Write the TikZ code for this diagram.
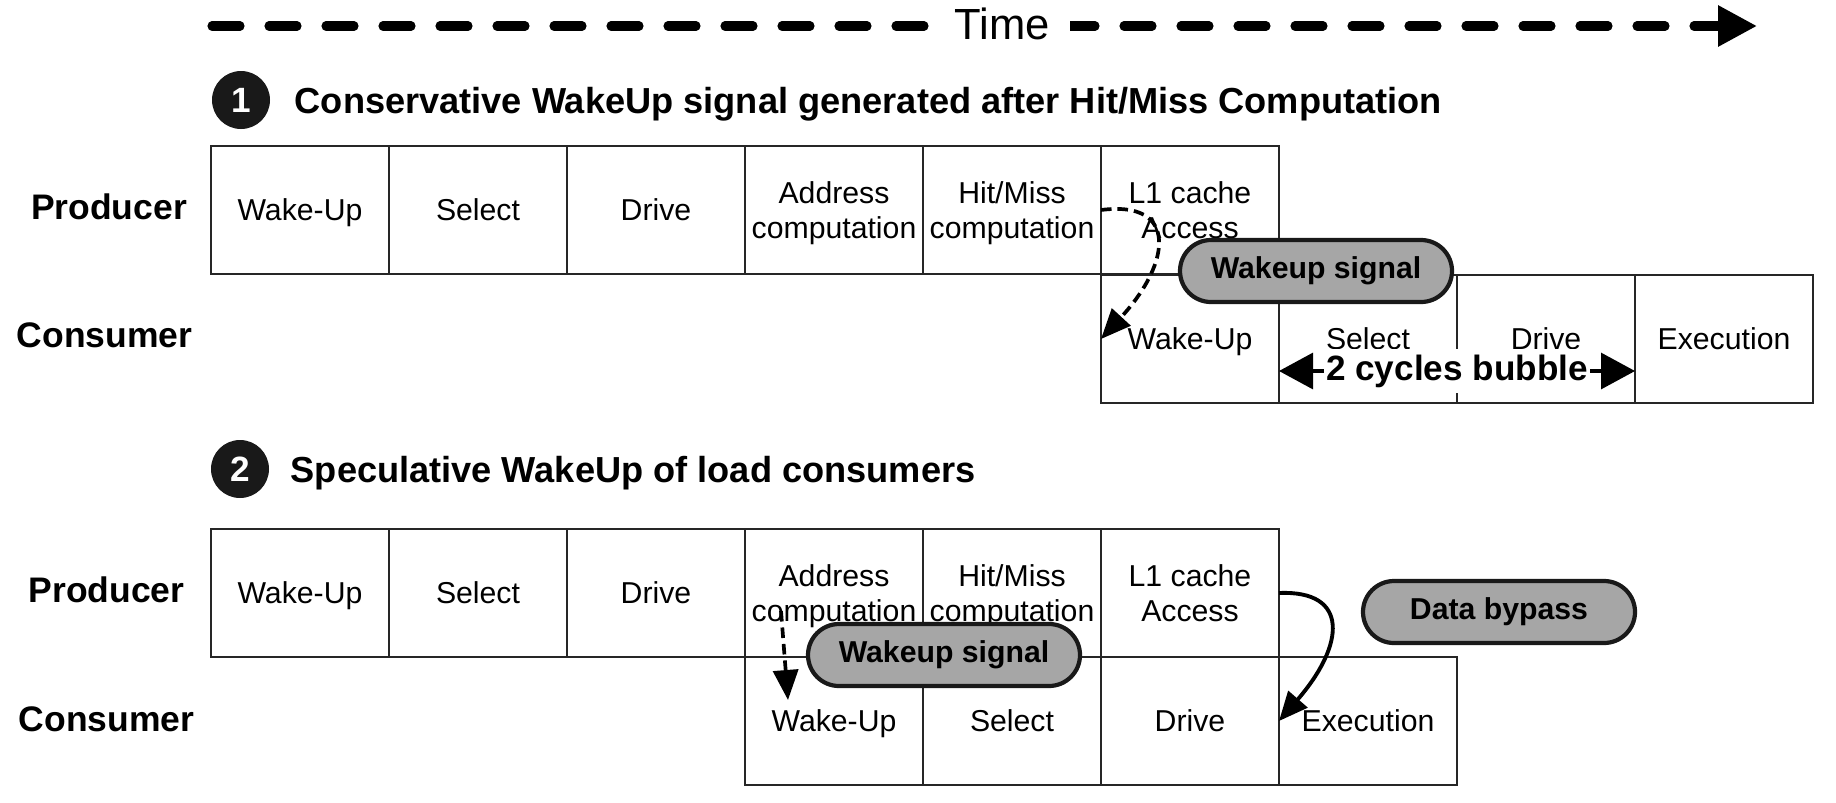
\documentclass[tikz,border=0pt]{standalone}
\usepackage{fontspec}
\setmainfont{Liberation Sans}
\usetikzlibrary{arrows.meta,shapes.misc,positioning}

\begin{document}
\begin{tikzpicture}[line width=0.5pt,>=Triangle,
  stage/.style={draw=black!85,fill=white,minimum width=1.78cm,minimum height=1.28cm,
    inner sep=0pt,outer sep=0pt,align=center,text depth=0pt,
    font=\fontsize{8.6}{10.2}\selectfont},
  rowlabel/.style={inner sep=0pt,font=\fontsize{10.1}{12}\selectfont\bfseries},
  numdot/.style={circle,fill=black!90,text=white,minimum size=0.58cm,inner sep=0pt,
    font=\fontsize{10}{12}\selectfont\bfseries},
  heading/.style={inner sep=0pt,anchor=base west,font=\fontsize{10.3}{12}\selectfont\bfseries},
  signal/.style={rounded rectangle,draw=black!90,line width=1.2pt,fill=black!35,
    minimum width=2.72cm,minimum height=0.62cm,inner sep=0pt,
    font=\fontsize{8.6}{10}\selectfont\bfseries},
  timeline/.style={line width=2.6pt,line cap=round,dash pattern=on 0.28cm off 0.29cm,
    -{Triangle[length=0.39cm,width=0.39cm]}},
  timelabel/.style={fill=white,inner xsep=0.2cm,inner ysep=0.1cm,
    font=\fontsize{12.4}{14}\selectfont},
  wakeflow/.style={line width=1.05pt,dash pattern=on 3pt off 1.7pt,
    -{Triangle[length=0.30cm,width=0.25cm]}},
  bypass/.style={line width=1.1pt,-{Triangle[length=0.29cm,width=0.25cm]}},
  bubble/.style={line width=0.9pt,
    {Triangle[length=0.34cm,width=0.36cm]}-{Triangle[length=0.34cm,width=0.36cm]}},
  bubbletext/.style={fill=white,inner xsep=0.5pt,inner ysep=1.5pt,
    font=\fontsize{10}{12}\selectfont\bfseries}]
\useasboundingbox (0,0) rectangle (18.36,-8.02);
% 时间轴
\coordinate (t0) at (2.12,-0.26);
\coordinate (t1) at (17.57,-0.26);
\draw[timeline] (t0) -- (t1);
\node[timelabel] (time) at (10.02,-0.24) {Time};

% 情形一：命中判断之后才唤醒
\node[numdot] (n1) at (2.41,-1.00) {1};
\node[heading] (h1) at ([xshift=0.23cm,yshift=-0.13cm]n1.east)
  {Conservative WakeUp signal generated after Hit/Miss Computation};
\node[rowlabel] (lp1) at (1.09,-2.07) {Producer};
\node[rowlabel] (lc1) at (1.045,-3.35) {Consumer};
\foreach \txt [count=\i from 0] in {Wake-Up,Select,Drive,{Address\\computation},
  {Hit/Miss\\computation},{L1 cache\\Access}}
  \node[stage] (p1\i) at ({3.00+1.78*\i},-2.10) {\txt};
\foreach \txt [count=\i from 0] in {Wake-Up,Select,Drive,Execution}
  \node[stage] (c1\i) at ({11.90+1.78*\i},-3.39) {\txt};
\node[signal] (ws1) at (13.16,-2.71) {Wakeup signal};
\draw[wakeflow] (p14.east) .. controls (11.78,-2.00) and (11.72,-2.62) .. (c10.west);
\draw[bubble] ([yshift=-0.32cm]c11.west) -- node[bubbletext] (gap) {2 cycles bubble}
  ([yshift=-0.32cm]c12.east);

% 情形二：推测唤醒
\node[numdot] (n2) at (2.40,-4.69) {2};
\node[heading] (h2) at ([xshift=0.20cm,yshift=-0.13cm]n2.east)
  {Speculative WakeUp of load consumers};
\node[rowlabel] (lp2) at (1.065,-5.90) {Producer};
\node[rowlabel] (lc2) at (1.065,-7.19) {Consumer};
\foreach \txt [count=\i from 0] in {Wake-Up,Select,Drive,{Address\\computation},
  {Hit/Miss\\computation},{L1 cache\\Access}}
  \node[stage] (p2\i) at ({3.00+1.78*\i},-5.93) {\txt};
\foreach \txt [count=\i from 0] in {Wake-Up,Select,Drive,Execution}
  \node[stage] (c2\i) at ({8.34+1.78*\i},-7.21) {\txt};
\node[signal] (ws2) at (9.44,-6.55) {Wakeup signal};
\node[signal] (db) at (14.99,-6.12) {Data bypass};
\draw[wakeflow] ([shift={(0.36,0.46)}]p23.south west) -- ([shift={(0.43,-0.43)}]c20.north west);
\draw[bypass] (p25.east) .. controls (13.50,-5.90) and (13.45,-6.45) .. (c23.west);
\end{tikzpicture}
\end{document}
